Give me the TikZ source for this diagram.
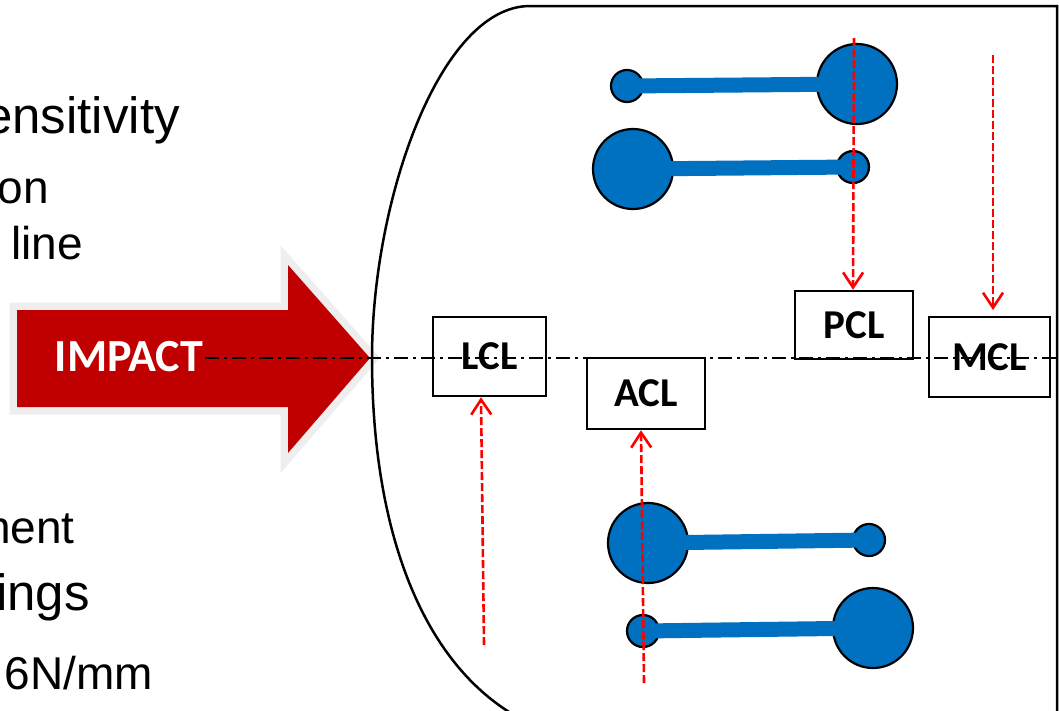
\documentclass[tikz,border=0pt]{standalone}
\usepackage{fontspec}
\setmainfont{Liberation Sans}
\newfontfamily\calib{Carlito}
\usetikzlibrary{arrows.meta}
\definecolor{impred}{RGB}{192,0,0}
\definecolor{ligblue}{RGB}{0,112,192}
\definecolor{bordergray}{RGB}{238,238,238}
\begin{document}
\begin{tikzpicture}[x=1pt,y=-1pt,
  lbl/.style={draw=black, line width=2.5pt, inner sep=0pt, font=\calib\bfseries\fontsize{41}{48}\selectfont},
  bigtext/.style={font=\fontsize{51}{60}\selectfont, anchor=base east, inner sep=0pt},
  smalltext/.style={font=\fontsize{46}{54}\selectfont, anchor=base east, inner sep=0pt},
  force/.style={red, line width=2.6pt, dash pattern=on 8pt off 3pt, -{Straight Barb[length=15pt,width=20pt,line width=2.6pt]}},
  bigball/.style={circle, draw=black, line width=2.2pt, fill=ligblue, minimum size=80pt, inner sep=0pt},
  smallball/.style={circle, draw=black, line width=2.2pt, fill=ligblue, minimum size=32pt, inner sep=0pt},
  bar/.style={ligblue, line width=15pt},
  axisline/.style={black, line width=2.2pt, dash pattern=on 14pt off 5pt on 3pt off 5pt}
]
\useasboundingbox (0,0) rectangle (1059,710);
\clip (0,0) rectangle (1059,710);

% left texts (cropped as in the reference)
\node[bigtext] (t1) at (180,133) {ensitivity};
\node[smalltext] (t2) at (49,203) {on};
\node[smalltext] (t3) at (83,259) {line};
\node[smalltext] (t4) at (75,543) {nent};
\node[bigtext] (t5) at (90,610) {ings};
\node[smalltext] (t6) at (153,689) {6N/mm};

% impact arrow
\draw[bordergray, line width=15pt, line join=miter]
  (17,310) -- (288,310) -- (288,265) -- (370,358) -- (288,453) -- (288,407) -- (17,407) -- cycle;
\fill[impred]
  (17,310) -- (288,310) -- (288,265) -- (370,358) -- (288,453) -- (288,407) -- (17,407) -- cycle;
\node[text=white, font=\calib\bfseries\fontsize{46}{54}\selectfont, inner sep=0pt] (impact) at (129,357) {IMPACT};

% knee outline
\draw[line width=2.5pt] (1057,740) -- (1057,6)
  -- (530,6) .. controls (440,6) and (372,200) .. (372,358)
  .. controls (372,560) and (440,700) .. (560,735);

% dumbbells
\node[smallball] (d1a) at (627,86) {};
\node[bigball] (d1b) at (857,84) {};
\draw[bar] (d1a.center) -- (d1b.center);
\node[bigball] (d2a) at (633,169) {};
\node[smallball] (d2b) at (853,167) {};
\draw[bar] (d2a.center) -- (d2b.center);
\node[bigball] (d3a) at (648,543) {};
\node[smallball] (d3b) at (869,540) {};
\draw[bar] (d3a.center) -- (d3b.center);
\node[smallball] (d4a) at (643,631) {};
\node[bigball] (d4b) at (873,628) {};
\draw[bar] (d4a.center) -- (d4b.center);

% ligament boxes
\node[lbl, minimum width=113pt, minimum height=79pt] (lcl) at (489.5,356.5) {LCL};
\node[lbl, minimum width=118pt, minimum height=71pt] (acl) at (646,393.5) {ACL};
\node[lbl, minimum width=118pt, minimum height=68pt] (pcl) at (854,325) {PCL};
\node[lbl, minimum width=121pt, minimum height=80pt] (mcl) at (989.5,357) {MCL};

% axis line
\coordinate (axs) at (205,358);
\coordinate (axe) at (1059,358);
\draw[axisline] (axs) -- (axe);

% force arrows
\coordinate (flcl) at (484,645);
\coordinate (facl) at (644,683);
\coordinate (fpcl) at (854,38);
\coordinate (fmcl) at (993,55);
\coordinate (tmcl) at (993,310);
\draw[force] (flcl) -- (481,0 |- lcl.south);
\draw[force] (facl) -- (641,0 |- acl.south);
\draw[force] (fpcl) -- (853,0 |- pcl.north);
\draw[force] (fmcl) -- (tmcl);
\end{tikzpicture}
\end{document}
